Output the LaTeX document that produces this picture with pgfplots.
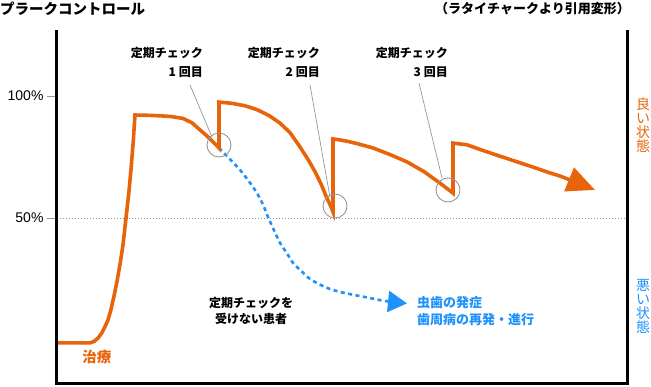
\documentclass[border=0pt]{standalone}
\usepackage{fontspec}
\setmainfont{Noto Sans CJK JP}
\newfontfamily\lib{Liberation Sans}
\usepackage{pgfplots}
\pgfplotsset{compat=1.18}
\usetikzlibrary{arrows.meta}
\definecolor{ora}{RGB}{232,100,10}
\definecolor{blu}{RGB}{30,145,250}
\definecolor{cgray}{RGB}{150,150,150}
\begin{document}
\begin{tikzpicture}[x=1pt,y=1pt]
\useasboundingbox (0,0) rectangle (651,387);
\node[anchor=west, inner sep=0, font=\bfseries\fontsize{14.5}{14.5}\selectfont] at (0,378.5) {プラークコントロール};
\node[anchor=east, inner sep=0, font=\bfseries\fontsize{13}{13}\selectfont] at (630,378.5) {（ラタイチャークより引用変形）};
\begin{axis}[at={(57pt,3pt)}, anchor=south west, scale only axis,
  width=570pt, height=354pt, xmin=0, xmax=570, ymin=-18.03, ymax=127.05,
  clip=false, axis line style={draw=none}, xtick=\empty,
  ytick={50,100}, yticklabels={50\%,100\%}, ytick pos=left,
  tick align=outside, major tick length=10pt,
  tick style={cgray, line width=0.8pt},
  yticklabel style={font=\lib\fontsize{14}{14}\selectfont, text=black},
  /pgf/number format/assume math mode=true]
\draw[cgray, line width=0.7pt, dash pattern=on 1pt off 2pt] (axis cs:0,50) -- (axis cs:570,50);
% patient without checks
\addplot[blu, line width=2.6pt, dash pattern=on 4pt off 3.5pt, smooth, tension=0.5,
  -{Triangle[length=19pt,width=21pt,sep=0pt]}] coordinates {
(162,78.7)(172,74.5)(183,69.7)(192,65)(200,60.2)(206,55.5)(211,50.4)(217,45)(223,39.8)(230,35.5)(236,31.6)(245,28)(253,25)(263,22.7)(273,20.9)(285,19.5)(298,18.4)(313,17.2)(328,16)(350,15)};
% plaque control with checks
\addplot[ora, line width=3.6pt, line join=miter,
  -{Triangle[length=28pt,width=25pt]}] coordinates {
(0,-1.2)(33,-1.2)(37,-0.6)(41,0.8)(45,3)(48,5.5)(51,8.2)(54,12.5)(57,18)(60,24)(63,31)(66,39)(69,50)(72,61)(74,70)(76,80)(78,92.2)
(90,92.1)(102,91.9)(114,91.6)(126,90.8)(135,89)(143,86.1)(150,83.6)(156,81.2)(162,78.7)
(162,97.5)(175,97)(188,96)(200,94.4)(212,92)(223,88.9)(233,85)(243,79.1)(251,74)(258,69)(264,64)(269,59)(273,55.5)(276,52.5)
(276,82.4)(283,82)(292,81.3)(300,80.5)(316,78.7)(333,76)(350,73)(367,69)(383,64.3)(396,60.2)
(396,80.7)(410,80)(425,77.8)(441,75.6)(458,73.3)(475,71)(492,68.6)(503,67.2)(520,64.5)(538,61.5)};
% check circles
\addplot[only marks, mark=o, mark size=12pt, mark options={draw=cgray, line width=0.9pt}] coordinates {(162,79.9)(278,54.9)(391,61.5)};
% leader lines
\addplot[cgray, line width=0.7pt] coordinates {(133,104.5)(155,83.2)};
\addplot[cgray, line width=0.7pt] coordinates {(253,104.5)(273,58.6)};
\addplot[cgray, line width=0.7pt] coordinates {(362,105.3)(385,66.4)};
% frame
\draw[line width=3pt, line join=miter] (rel axis cs:0,1) -- (rel axis cs:0,0) -- (rel axis cs:1,0) -- (rel axis cs:1,1);
% labels
\begin{scope}[every node/.style={inner sep=0, font=\bfseries\fontsize{12}{12}\selectfont}]
\node[anchor=east] at (axis cs:146,117.6) {定期チェック};
\node[anchor=east] at (axis cs:146,109.8) {1 回目};
\node[anchor=east] at (axis cs:263,117.6) {定期チェック};
\node[anchor=east] at (axis cs:263,109.8) {2 回目};
\node[anchor=east] at (axis cs:391,117.6) {定期チェック};
\node[anchor=east] at (axis cs:391,109.8) {3 回目};
\node[anchor=center] at (axis cs:194,15.2) {定期チェックを};
\node[anchor=center] at (axis cs:194,8.6) {受けない患者};
\end{scope}
\node[anchor=west, inner sep=0, text=blu, font=\bfseries\fontsize{13}{13}\selectfont] at (axis cs:360,15.2) {虫歯の発症};
\node[anchor=west, inner sep=0, text=blu, font=\bfseries\fontsize{13}{13}\selectfont] at (axis cs:360,8.2) {歯周病の再発・進行};
\node[inner sep=0, text=ora, font=\bfseries\fontsize{14.5}{14.5}\selectfont] at (axis cs:40,-7) {治療};
\node[inner sep=0, text=ora, align=center, font=\fontsize{14}{14}\selectfont] at (axis cs:586,87.9) {良\\い\\状\\態};
\node[inner sep=0, text=blu, align=center, font=\fontsize{14}{14}\selectfont] at (axis cs:586,13.7) {悪\\い\\状\\態};
\end{axis}
\end{tikzpicture}
\end{document}
